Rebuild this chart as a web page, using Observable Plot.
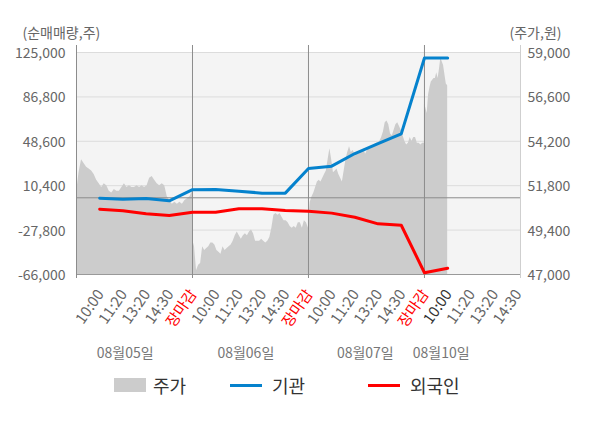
<!DOCTYPE html>
<html><head><meta charset="utf-8">
<script src="https://cdn.jsdelivr.net/npm/d3@7"></script>
<script src="https://cdn.jsdelivr.net/npm/@observablehq/plot@0.6"></script>
<style>
body{margin:0;background:#fff;font-family:"Noto Sans CJK KR","Noto Sans",sans-serif;}
#wrap{position:relative;width:600px;height:428px;}
.lg{position:absolute;top:374px;height:22px;display:flex;align-items:center;font-size:18px;color:#333;}
.sw{display:inline-block;margin-right:7px;}
</style></head>
<body><div id="wrap"><div id="chart"></div>
<div class="lg" style="left:114px"><span class="sw" style="width:32px;height:14px;background:#cccccc"></span>주가</div>
<div class="lg" style="left:230px"><span class="sw" style="width:32px;height:3px;background:#0582cd;margin-right:10px"></span>기관</div>
<div class="lg" style="left:368px"><span class="sw" style="width:32px;height:3px;background:#ff0000;margin-right:10px"></span>외국인</div>
</div>
<script>
// ---- data ----
const days = ["08월05일", "08월06일", "08월07일", "08월10일"];
const tickTimes = ["10:00", "11:20", "13:20", "14:30", "장마감"];
const leftTicks = [125000, 86800, 48600, 10400, -27800, -66000];
const rightTicks = [59000, 56600, 54200, 51800, 49400, 47000];

const price0805 = [51400, 52500, 53200, 53000, 52800, 52700, 52600, 52400, 52100, 51900, 51700, 51900, 51800, 51500, 51400, 51600, 51500, 51500, 51700, 51900, 51700, 51800, 51700, 51700, 51800, 51700, 51800, 51700, 51800, 52200, 52300, 52100, 51900, 51800, 51900, 51800, 51200, 51000, 50800, 50900, 50800, 50900, 50800, 51000, 51100, 51200, 51500];
const price0806 = [48900, 48500, 47200, 47500, 47600, 48500, 48300, 48400, 48500, 48700, 48700, 48600, 48300, 48200, 48100, 48500, 48300, 48400, 48500, 48600, 48800, 49100, 49300, 49100, 48900, 49100, 49200, 49100, 49300, 49400, 49200, 48800, 48800, 48800, 48900, 48800, 48700, 48800, 49000, 49500, 50200, 50300, 50200, 50300, 50100, 49900, 49900, 49800, 49600, 49500, 49600, 49500, 49800, 49800, 49500, 49900, 49800, 49500];
const price0807 = [49800, 50900, 51200, 51400, 51700, 52000, 52100, 52000, 52200, 52400, 52600, 53200, 53800, 53200, 52500, 52600, 52700, 52400, 52200, 52000, 52600, 53200, 53600, 53900, 53600, 53700, 53500, 53600, 53500, 53700, 53600, 53800, 53500, 53700, 53800, 53800, 53900, 54000, 54100, 54100, 54200, 54400, 54700, 55200, 55300, 55100, 54600, 54500, 54800, 55100, 55200, 55000, 54800, 54500, 54200, 54000, 54100, 54400, 54200, 54400, 54400, 54100, 54100, 54000, 54100, 54100];
const price0810 = [56200, 56000, 55700, 56700, 57100, 57400, 57500, 57600, 57600, 57900, 57600, 58100, 58700, 58500, 58300, 57800, 57300, 57200];

// net buying (shares) at each tick: 08/05 10:00 ... 08/10 10:00
const institution = [-350, -1200, -600, -2600, 7000, 7100, 5700, 4000, 4000, 25200, 27200, 38100, 46700, 55000, 120300, 120300];
const foreigner = [-9800, -11200, -13800, -15200, -12400, -12400, -9500, -9500, -10900, -11500, -13200, -16700, -22400, -23600, -64500, -60600];

// ---- build ----
const SLOTS = 5; // tick slots per trading day
const pMin = 47000, pMax = 59000, vMin = -66000, vMax = 125000;
const toLeft = p => vMin + (p - pMin) * (vMax - vMin) / (pMax - pMin);
const toPrice = v => pMin + (v - vMin) * (pMax - pMin) / (vMax - vMin);

const priceSeries = [price0805, price0806, price0807, price0810];
const priceData = [];
priceSeries.forEach((arr, d) => {
  const span = d < 3 ? SLOTS : 1;
  arr.forEach((p, i) => priceData.push({x: d * SLOTS + i * span / (arr.length - 1), v: toLeft(p)}));
});
const instData = institution.map((v, i) => ({x: i + 1, v}));
const forData = foreigner.map((v, i) => ({x: i + 1, v}));

const tickData = [];
days.forEach((day, d) => {
  tickTimes.forEach((t, k) => {
    if (d === 3 && k === 4) return;
    tickData.push({x: d * SLOTS + k + 1, t, kind: k === 4 ? "close" : (d === 3 && k === 0 ? "now" : "time")});
  });
});
const dateOffsets = [2.1, 2.3, 2.45, 0.72];
const dateData = days.map((day, d) => ({x: d * SLOTS + dateOffsets[d], day}));

const xMax = 19.14;
const fmt = d => Math.round(d).toLocaleString("en-US");
const FONT = "'Noto Sans CJK KR', 'Noto Sans', sans-serif";
const tickOpts = {x: "x", text: "t", frameAnchor: "bottom", lineAnchor: "middle", rotate: -55, textAnchor: "end", dy: 17, dx: 1, fontSize: 15};

const chart = Plot.plot({
  width: 600, height: 368,
  marginLeft: 76, marginRight: 80, marginTop: 52, marginBottom: 94,
  style: {fontFamily: FONT, fontSize: "14px", color: "#666", background: "transparent"},
  x: {domain: [0, xMax], axis: null},
  y: {domain: [vMin, vMax], axis: null},
  marks: [
    Plot.frame({fill: "#f4f4f4", stroke: null}),
    Plot.gridY(leftTicks, {stroke: "#dcdcdc", strokeOpacity: 1}),
    Plot.areaY(priceData, {x: "x", y1: vMin, y2: "v", fill: "#cccccc"}),
    Plot.ruleY([0], {stroke: "#8c8c8c"}),
    Plot.ruleY([vMin], {stroke: "#999"}),
    Plot.ruleX([0, 5, 10, 15], {stroke: "#8c8c8c", insetTop: -7, insetBottom: -4}),
    Plot.ruleX([xMax], {stroke: "#cfcfcf", insetTop: -7, insetBottom: -4}),
    Plot.line(instData, {x: "x", y: "v", stroke: "#0582cd", strokeWidth: 3}),
    Plot.line(forData, {x: "x", y: "v", stroke: "#ff0000", strokeWidth: 3}),
    Plot.axisY(leftTicks, {anchor: "left", tickSize: 0, tickPadding: 11, tickFormat: fmt, label: null, fill: "#666", fontSize: 14, dy: 1}),
    Plot.axisY(rightTicks.map(toLeft), {anchor: "right", tickSize: 0, tickPadding: 7, tickFormat: v => fmt(toPrice(v)), label: null, fill: "#666", fontSize: 14, dy: 1}),
    Plot.text(tickData.filter(d => d.kind === "time"), {...tickOpts, fill: "#666"}),
    Plot.text(tickData.filter(d => d.kind === "now"), {...tickOpts, fill: "#333"}),
    Plot.text(tickData.filter(d => d.kind === "close"), {...tickOpts, fill: "#ff0000"}),
    Plot.text(dateData, {x: "x", text: "day", frameAnchor: "bottom", lineAnchor: "middle", dy: 79, fill: "#777", fontSize: 14}),
    Plot.text(["(순매매량,주)"], {frameAnchor: "top-left", lineAnchor: "middle", textAnchor: "start", dx: -54, dy: -19, fill: "#666", fontSize: 14}),
    Plot.text(["(주가,원)"], {frameAnchor: "top-right", lineAnchor: "middle", textAnchor: "start", dx: -11, dy: -19, fill: "#666", fontSize: 14})
  ]
});
document.getElementById("chart").appendChild(chart);
</script>
</body></html>
